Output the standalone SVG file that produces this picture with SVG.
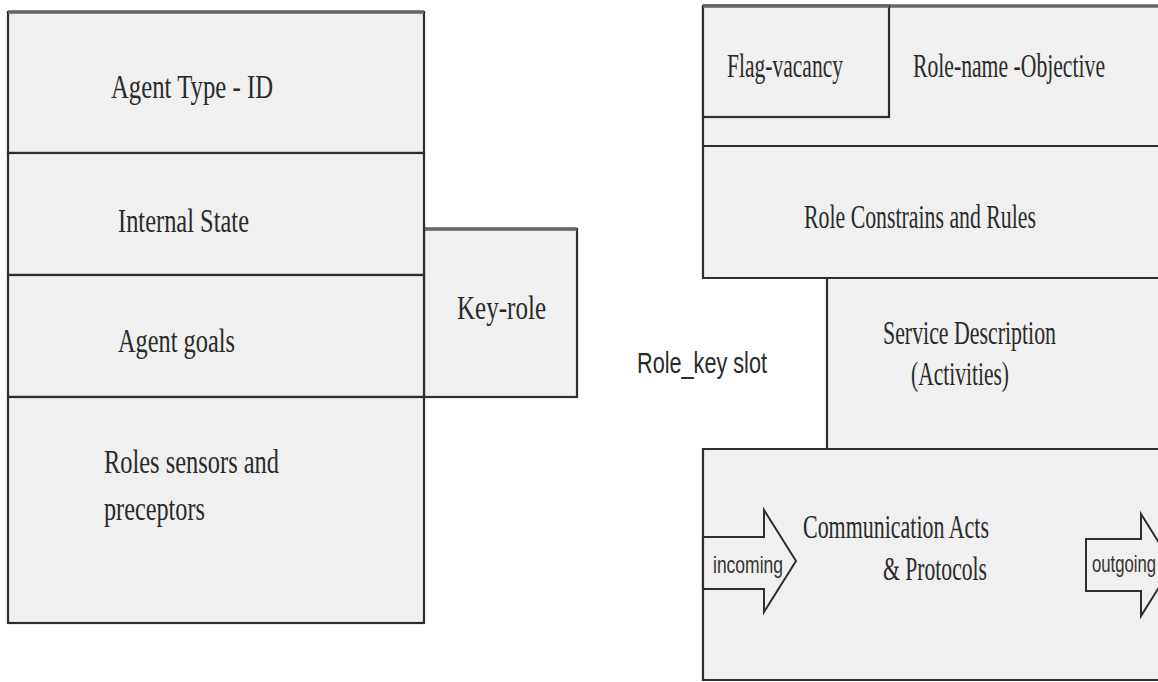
<svg xmlns="http://www.w3.org/2000/svg" width="1158" height="682" viewBox="0 0 1158 682">
<style>
.box{fill:#f0f0f0;stroke:#2e2e2e;stroke-width:2.2}
.fillonly{fill:#f0f0f0;stroke:none}
.edge{fill:none;stroke:#2e2e2e;stroke-width:2.2}
.top{stroke:#666;stroke-width:3.5}
.ser{font-family:"Liberation Serif","Times New Roman",serif;font-size:34px;fill:#2a2a2a}
.san{font-family:"Liberation Sans",Arial,sans-serif;font-size:30px;fill:#2a2a2a}
.sm{font-family:"Liberation Sans",Arial,sans-serif;font-size:24px;fill:#333}
.arrow{fill:#f0f0f0;stroke:#2e2e2e;stroke-width:2}
</style>
<rect width="1158" height="682" fill="#ffffff"/>
<g id="key-role">
<rect class="box" x="424" y="229" width="153" height="168"/>
<line class="top" x1="424" y1="229" x2="577" y2="229"/>
<text class="ser" x="457" y="319" textLength="89" lengthAdjust="spacingAndGlyphs">Key-role</text>
</g>
<g id="agent-type">
<rect class="box" x="8" y="12" width="416" height="141"/>
<line class="top" x1="8" y1="12" x2="424" y2="12"/>
<text class="ser" x="111" y="98" textLength="162" lengthAdjust="spacingAndGlyphs">Agent Type - ID</text>
</g>
<g id="internal-state">
<rect class="box" x="8" y="153" width="416" height="122"/>
<text class="ser" x="118" y="232" textLength="131" lengthAdjust="spacingAndGlyphs">Internal State</text>
</g>
<g id="agent-goals">
<rect class="box" x="8" y="275" width="416" height="122"/>
<text class="ser" x="118" y="352" textLength="117" lengthAdjust="spacingAndGlyphs">Agent goals</text>
</g>
<g id="roles-sensors">
<rect class="box" x="8" y="397" width="416" height="226"/>
<text class="ser" x="104" y="473" textLength="175" lengthAdjust="spacingAndGlyphs">Roles sensors and</text>
<text class="ser" x="104" y="520" textLength="101" lengthAdjust="spacingAndGlyphs">preceptors</text>
</g>
<g id="role-name">
<rect class="fillonly" x="703" y="6" width="455" height="140"/>
<path class="edge" d="M1158,146 H703 V6"/>
<line class="top" x1="703" y1="6" x2="1158" y2="6"/>
<text class="ser" x="913" y="77" textLength="192" lengthAdjust="spacingAndGlyphs">Role-name -Objective</text>
</g>
<g id="flag-vacancy">
<rect class="box" x="703" y="6" width="186" height="111"/>
<line class="top" x1="703" y1="6" x2="889" y2="6"/>
<text class="ser" x="727" y="77" textLength="116" lengthAdjust="spacingAndGlyphs">Flag-vacancy</text>
</g>
<g id="role-constrains">
<rect class="fillonly" x="703" y="146" width="455" height="132"/>
<path class="edge" d="M1158,146 H703 V278 H1158"/>
<text class="ser" x="804" y="228" textLength="232" lengthAdjust="spacingAndGlyphs">Role Constrains and Rules</text>
</g>
<g id="role-key-slot">
<text class="san" x="637" y="373" textLength="130" lengthAdjust="spacingAndGlyphs">Role_key slot</text>
</g>
<g id="service-description">
<rect class="fillonly" x="827" y="278" width="331" height="171"/>
<path class="edge" d="M1158,278 H827 V449 H1158"/>
<text class="ser" x="883" y="344" textLength="173" lengthAdjust="spacingAndGlyphs">Service Description</text>
<text class="ser" x="911" y="385" textLength="98" lengthAdjust="spacingAndGlyphs">(Activities)</text>
</g>
<g id="communication">
<rect class="fillonly" x="703" y="449" width="455" height="231"/>
<path class="edge" d="M1158,449 H703 V680 H1158"/>
<text class="ser" x="803" y="538" textLength="186" lengthAdjust="spacingAndGlyphs">Communication Acts</text>
<text class="ser" x="883" y="580" textLength="104" lengthAdjust="spacingAndGlyphs">&amp; Protocols</text>
</g>
<g id="connectors">
<g id="incoming">
<polygon class="arrow" points="703,537 764,537 764,510 796,561 764,612 764,589 703,589"/>
<line x1="703" y1="537" x2="703" y2="589" stroke="#2e2e2e" stroke-width="2.2"/>
<text class="sm" x="713" y="573" textLength="70" lengthAdjust="spacingAndGlyphs">incoming</text>
</g>
<g id="outgoing">
<polygon class="arrow" points="1086,539 1141,539 1141,514 1173,565 1141,616 1141,591 1086,591"/>
<text class="sm" x="1092" y="572" textLength="64" lengthAdjust="spacingAndGlyphs">outgoing</text>
</g>
</g>
</svg>
